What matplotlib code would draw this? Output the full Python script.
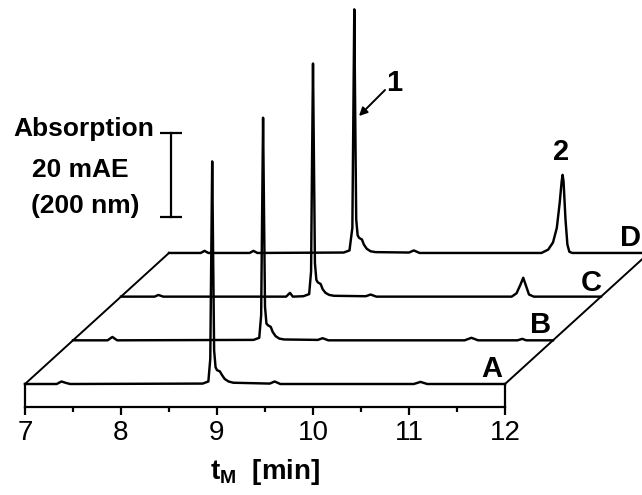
import matplotlib
matplotlib.use("Agg")
import matplotlib.pyplot as plt

plt.rcParams['font.family'] = ['Liberation Sans', 'DejaVu Sans']
plt.rcParams['mathtext.fontset'] = 'custom'
plt.rcParams['mathtext.bf'] = 'Liberation Sans:bold'
plt.rcParams['mathtext.rm'] = 'Liberation Sans'

# chromatogram traces, time in min, absorbance in mAE above each baseline
t_a = [7.00, 7.33, 7.38, 7.42, 7.47, 8.85, 8.91, 8.93, 8.94, 8.95, 8.96, 8.97, 8.985,
       9.00, 9.03, 9.05, 9.08, 9.12, 9.17, 9.55, 9.60, 9.66, 11.05, 11.12, 11.19, 12.00]
y_a = [0.0, 0.0, 0.6, 0.3, 0.0, 0.1, 0.6, 6.0, 30.0, 53.0, 30.0, 8.0, 4.0,
       3.3, 3.0, 2.2, 1.2, 0.6, 0.3, 0.1, 0.6, 0.0, 0.0, 0.5, 0.0, 0.0]

t_b = [7.00, 7.36, 7.41, 7.46, 8.88, 8.94, 8.96, 8.97, 8.98, 8.99, 9.00, 9.015, 9.03,
       9.06, 9.08, 9.11, 9.15, 9.20, 9.55, 9.60, 9.66, 11.08, 11.15, 11.22, 11.63,
       11.68, 11.72, 12.00]
y_b = [0.0, 0.0, 0.8, 0.0, 0.1, 0.6, 6.0, 30.0, 53.0, 30.0, 8.0, 4.0, 3.6,
       3.2, 2.0, 1.0, 0.4, 0.2, 0.1, 0.5, 0.0, 0.0, 0.6, 0.0, 0.0,
       0.35, 0.0, 0.0]

t_c = [7.00, 7.35, 7.39, 7.44, 8.72, 8.76, 8.79, 8.90, 8.96, 8.98, 8.99, 9.00, 9.01,
       9.02, 9.035, 9.05, 9.08, 9.10, 9.13, 9.17, 9.22, 9.55, 9.60, 9.66, 11.07,
       11.12, 11.16, 11.19, 11.22, 11.25, 11.30, 12.00]
y_c = [0.0, 0.0, 0.4, 0.0, 0.0, 0.9, 0.0, 0.1, 0.6, 6.0, 32.0, 55.5, 32.0,
       8.0, 4.0, 3.4, 3.0, 1.8, 0.9, 0.4, 0.2, 0.1, 0.5, 0.0, 0.0,
       0.8, 2.8, 4.5, 2.5, 0.5, 0.0, 0.0]

t_d = [7.00, 7.33, 7.37, 7.41, 7.84, 7.88, 7.92, 8.82, 8.88, 8.91, 8.92, 8.93, 8.94,
       8.95, 8.965, 8.98, 9.01, 9.03, 9.06, 9.10, 9.15, 9.50, 9.55, 9.61, 10.88,
       10.95, 11.00, 11.04, 11.07, 11.09, 11.10, 11.11, 11.13, 11.15, 11.17, 11.20, 12.00]
y_d = [0.0, 0.0, 0.5, 0.0, 0.0, 0.5, 0.0, 0.1, 0.6, 6.0, 32.0, 58.0, 32.0,
       8.0, 4.2, 3.6, 3.2, 2.0, 1.0, 0.4, 0.2, 0.1, 0.6, 0.0, 0.0,
       0.8, 2.5, 6.0, 12.0, 17.0, 18.6, 17.0, 8.0, 2.0, 0.3, 0.0, 0.0]

trace_names = ['A', 'B', 'C', 'D']
traces = [(t_a, y_a), (t_b, y_b), (t_c, y_c), (t_d, y_d)]
x_ticks = [7, 8, 9, 10, 11, 12]
scale_bar_mae = 20

# waterfall offsets per trace
dx = 0.5
dy = 10.4

W, H = 642, 495
fig = plt.figure(figsize=(W / 100, H / 100), dpi=100)


def fpos(x, y):
    # pixel position (from top-left) -> figure fraction
    return x / W, 1 - y / H


# main drawing axes covers the whole figure, 96 px per min, 4.2 px per mAE
ax = fig.add_axes([0, 0, 1, 1])
ax.set_xlim(7 - 25 / 96, 7 + (W - 25) / 96)
ax.set_ylim(-(H - 384) / 4.2, 384 / 4.2)
ax.axis('off')

lw = 1.75
for k, (t, y) in enumerate(traces):
    ax.plot([ti + k * dx for ti in t], [yi + k * dy for yi in y],
            color='black', lw=lw, solid_joinstyle='round')

# floor sides
n = len(traces) - 1
ax.plot([x_ticks[0], x_ticks[0] + n * dx], [0, n * dy], color='black', lw=1.4)
ax.plot([x_ticks[-1], x_ticks[-1] + n * dx], [0, n * dy], color='black', lw=1.4)

# scale bar
bar_x = 8.52
bar_y0 = 39.8
ax.plot([bar_x, bar_x], [bar_y0, bar_y0 + scale_bar_mae], color='black', lw=1.6)
ax.plot([bar_x, bar_x], [bar_y0, bar_y0 + scale_bar_mae], color='black',
        ls='none', marker='_', ms=16, mew=1.6)

# front face of the floor with the time axis
ax2 = fig.add_axes([25 / W, (H - 407) / H, 480 / W, 23 / H])
ax2.patch.set_visible(False)
ax2.set_xlim(x_ticks[0], x_ticks[-1])
ax2.set_ylim(0, 1)
ax2.spines['top'].set_visible(False)
for s in ['left', 'right', 'bottom']:
    ax2.spines[s].set_linewidth(1.6)
ax2.set_yticks([])
ax2.set_xticks(x_ticks)
ax2.set_xticks([v + 0.5 for v in x_ticks[:-1]], minor=True)
ax2.tick_params(axis='x', which='major', direction='out', length=6, width=1.6,
                labelsize=20, pad=3)
ax2.tick_params(axis='x', which='minor', direction='out', length=3.6, width=1.6)
ax2.set_xlabel(r'$\mathbf{t_M}$  [min]', fontsize=20, fontweight='bold', labelpad=8)

# trace letters
label_pos = [(492, 369), (541, 325), (591, 283), (630, 238)]
for name, (lx, ly) in zip(trace_names, label_pos):
    fig.text(*fpos(lx, ly), name, fontsize=21, fontweight='bold', ha='center', va='center')

# scale bar text
fig.text(*fpos(84, 129), 'Absorption', fontsize=19, fontweight='bold', ha='center', va='center')
fig.text(*fpos(80, 170), '20 mAE', fontsize=19, fontweight='bold', ha='center', va='center')
fig.text(*fpos(85, 206), '(200 nm)', fontsize=19, fontweight='bold', ha='center', va='center')

# peak labels
fig.text(*fpos(394, 83), '1', fontsize=21, fontweight='bold', ha='center', va='center')
fig.text(*fpos(561, 152), '2', fontsize=21, fontweight='bold', ha='center', va='center')
ax.annotate('', xy=(359, H - 116), xycoords='figure pixels',
            xytext=(385, H - 90), textcoords='figure pixels',
            arrowprops=dict(arrowstyle='-|>', lw=1.4, color='black',
                            mutation_scale=12, shrinkA=0, shrinkB=0))

fig.savefig('out.png', dpi=100)
